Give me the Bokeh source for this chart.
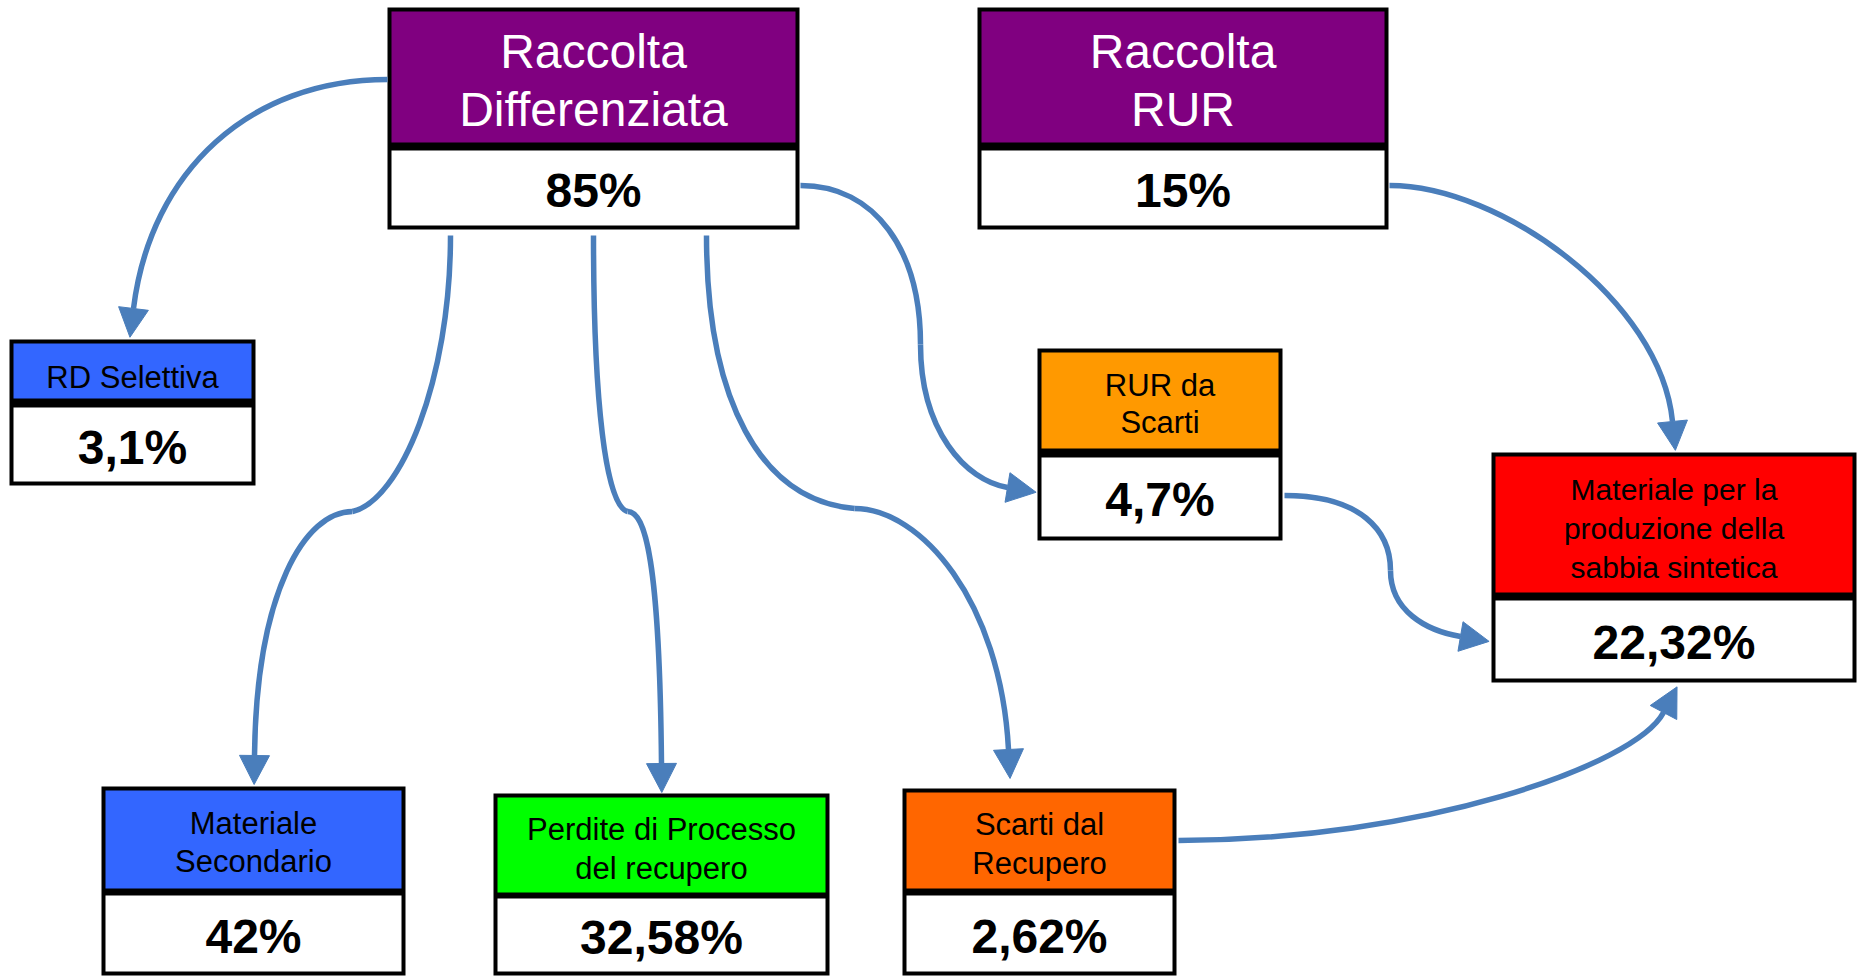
import math
from bokeh.plotting import figure
from bokeh.models import Range1d
from bokeh.core.properties import value
from bokeh.embed import file_html
from bokeh.resources import INLINE

# ---------------- data ----------------
node_labels = [
    "Raccolta\nDifferenziata",
    "Raccolta\nRUR",
    "RD Selettiva",
    "RUR da\nScarti",
    "Materiale per la\nproduzione della\nsabbia sintetica",
    "Materiale\nSecondario",
    "Perdite di Processo\ndel recupero",
    "Scarti dal\nRecupero",
]
node_values = ["85%", "15%", "3,1%", "4,7%", "22,32%", "42%", "32,58%", "2,62%"]
header_colors = ["#800080", "#800080", "#3366FF", "#FF9900", "#FF0000", "#3366FF", "#00FF00", "#FF6600"]
header_text_colors = ["white", "white", "black", "black", "black", "black", "black", "black"]
flows = [(0, 2), (0, 5), (0, 6), (0, 7), (0, 3), (1, 4), (3, 4), (7, 4)]

# ---------------- layout (screen pixels) ----------------
box_left = [387, 977, 9, 1037, 1491, 101, 493, 902]
box_right = [799, 1388, 255, 1282, 1856, 405, 829, 1176]
box_top = [7, 7, 339, 348, 452, 786, 793, 788]
div_top = [142, 142, 398, 448, 592, 888, 892, 888]
div_bot = [150, 150, 407, 457, 600, 895, 898, 895]
box_bottom = [229, 229, 485, 540, 682, 975, 975, 975]
header_font = [48, 48, 31, 31, 30, 31, 31, 31]
header_gap = [58, 58, 0, 37, 39, 38, 39, 39]
header_dy = [1, 1, 5, 2, 2, 1, 2, 2]
VALUE_FONT = 48
BORDER = 4
FONT = "Liberation Sans"
LINE_COLOR = "#4A7EBB"

# connector paths: list of cubic segments (P0, P1, P2, P3) per flow
paths = [
    [[(387, 79), (250, 79), (150, 170), (133, 308)]],
    [[(450, 235), (450, 380), (400, 500), (352, 511)],
     [(352, 511), (305, 511), (256, 590), (254, 755)]],
    [[(593, 235), (593, 400), (605, 505), (627, 511)],
     [(627, 511), (645, 511), (659, 560), (661, 763)]],
    [[(706, 235), (706, 400), (760, 500), (854, 508)],
     [(854, 508), (920, 508), (1000, 600), (1008, 749)]],
    [[(800, 185), (875, 185), (920, 250), (920, 344)],
     [(920, 344), (920, 430), (965, 480), (1007, 487)]],
    [[(1389, 185), (1500, 185), (1660, 300), (1672, 421)]],
    [[(1284, 495), (1360, 495), (1390, 530), (1390, 570)],
     [(1390, 570), (1390, 610), (1425, 630), (1460, 636)]],
    [[(1178, 840), (1420, 840), (1635, 765), (1663, 712)]],
]
HEAD_LEN = 29
HEAD_W = 30
LINE_W = 5.5

# ---------------- figure ----------------
W, H = 1858, 976
p = figure(width=W, height=H, x_range=Range1d(0, W), y_range=Range1d(H, 0),
           output_backend="svg", toolbar_location=None, x_axis_type=None, y_axis_type=None,
           min_border=0, background_fill_color="white", border_fill_color="white")
p.outline_line_color = None
p.grid.visible = False

n = len(node_labels)
# outer black frame
p.quad(left=box_left, right=box_right, top=box_top, bottom=box_bottom,
       fill_color="black", line_color=None)
# header fill
p.quad(left=[l + BORDER for l in box_left], right=[r - BORDER for r in box_right],
       top=[t + BORDER for t in box_top], bottom=div_top,
       fill_color=header_colors, line_color=None)
# value area fill
p.quad(left=[l + BORDER for l in box_left], right=[r - BORDER for r in box_right],
       top=div_bot, bottom=[b - BORDER for b in box_bottom],
       fill_color="white", line_color=None)

# header texts (y = visual centre of capitals)
tx, ty, tt, tc, ts = [], [], [], [], []
for i in range(n):
    lines = node_labels[i].split("\n")
    hc = (box_top[i] + BORDER + div_top[i]) / 2.0
    k = len(lines)
    for j, ln in enumerate(lines):
        tx.append((box_left[i] + box_right[i]) / 2.0)
        ty.append(hc + (j - (k - 1) / 2.0) * header_gap[i] + header_dy[i] + 0.06 * header_font[i])
        tt.append(ln)
        tc.append(header_text_colors[i])
        ts.append(f"{header_font[i]}px")
p.text(x=tx, y=ty, text=tt, text_color=tc, text_font_size=ts, text_font=value(FONT),
       text_align="center", text_baseline="middle")

# value texts
vx = [(box_left[i] + box_right[i]) / 2.0 for i in range(n)]
vy = [(div_bot[i] + box_bottom[i] - BORDER) / 2.0 + 0.06 * VALUE_FONT for i in range(n)]
p.text(x=vx, y=vy, text=node_values, text_color="black", text_font_size=f"{VALUE_FONT}px",
       text_font=value(FONT), text_font_style="bold", text_align="center", text_baseline="middle")

# connectors
bx0, by0, bx1, by1, bcx0, bcy0, bcx1, bcy1 = [], [], [], [], [], [], [], []
heads_x, heads_y = [], []
for path in paths:
    for seg in path:
        (a, b, c, d) = seg
        bx0.append(a[0]); by0.append(a[1])
        bcx0.append(b[0]); bcy0.append(b[1])
        bcx1.append(c[0]); bcy1.append(c[1])
        bx1.append(d[0]); by1.append(d[1])
    last = path[-1]
    (c, d) = last[2], last[3]
    dx, dy = d[0] - c[0], d[1] - c[1]
    L = math.hypot(dx, dy)
    ux, uy = dx / L, dy / L
    nx, ny = -uy, ux
    tip = (d[0] + ux * HEAD_LEN, d[1] + uy * HEAD_LEN)
    heads_x.append([tip[0], d[0] + nx * HEAD_W / 2, d[0] - nx * HEAD_W / 2])
    heads_y.append([tip[1], d[1] + ny * HEAD_W / 2, d[1] - ny * HEAD_W / 2])

p.bezier(x0=bx0, y0=by0, x1=bx1, y1=by1, cx0=bcx0, cy0=bcy0, cx1=bcx1, cy1=bcy1,
         line_color=LINE_COLOR, line_width=LINE_W)
p.patches(xs=heads_x, ys=heads_y, fill_color=LINE_COLOR, line_color=LINE_COLOR, line_width=1)

open("out.html", "w").write(file_html(p, INLINE))
